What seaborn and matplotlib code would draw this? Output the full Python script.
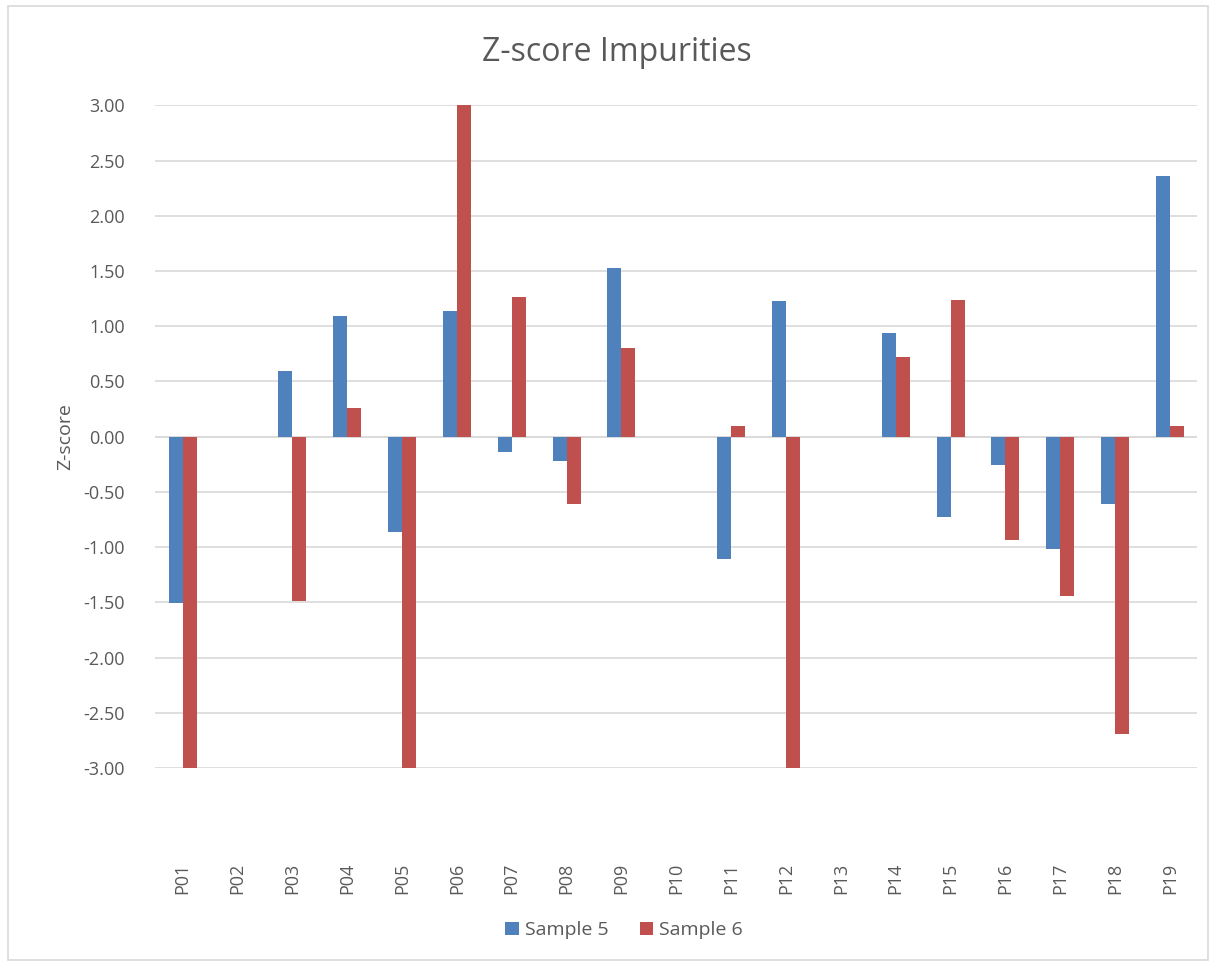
import pandas as pd
import matplotlib.pyplot as plt
import seaborn as sns
from matplotlib.patches import Rectangle

# data
categories = ["P01", "P02", "P03", "P04", "P05", "P06", "P07", "P08", "P09", "P10",
              "P11", "P12", "P13", "P14", "P15", "P16", "P17", "P18", "P19"]
sample5 = [-1.51, 0.0, 0.59, 1.09, -0.86, 1.14, -0.14, -0.22, 1.53, 0.0,
           -1.11, 1.23, 0.0, 0.94, -0.73, -0.26, -1.02, -0.61, 2.36]
sample6 = [-3.0, 0.0, -1.49, 0.26, -3.0, 3.0, 1.26, -0.61, 0.80, 0.0,
           0.095, -3.0, 0.0, 0.72, 1.24, -0.94, -1.44, -2.69, 0.10]

df = pd.DataFrame({
    "Parameter": categories * 2,
    "Z-score": sample5 + sample6,
    "Series": ["Sample 5"] * len(categories) + ["Sample 6"] * len(categories),
})

sns.set_style("white")
plt.rcParams['font.family'] = ['Open Sans', 'DejaVu Sans']
text_col = "#595959"

fig = plt.figure(figsize=(12.12, 9.66), dpi=100)
fig.patches.append(Rectangle((8 / 1212, 6 / 966), 1200 / 1212, 954 / 966,
                             transform=fig.transFigure, fill=False,
                             edgecolor="#D9D9D9", linewidth=1.2))
ax = fig.add_axes([0.128, 0.205, 0.86, 0.686])

sns.barplot(data=df, x="Parameter", y="Z-score", hue="Series",
            palette=["#4F81BD", "#C0504D"], width=0.51, ax=ax,
            saturation=1, linewidth=0, zorder=3)

ax.set_ylim(-3, 3)
ax.set_yticks([-3 + 0.5 * i for i in range(13)])
ax.set_yticklabels([f"{-3 + 0.5 * i:.2f}" for i in range(13)], fontsize=13, color=text_col)
ax.set_xlim(-0.5, len(categories) - 0.5)
ax.tick_params(axis="x", length=0, pad=68, labelsize=13, labelcolor=text_col, rotation=90)
ax.tick_params(axis="y", length=0, pad=22)
for lbl in ax.get_xticklabels():
    lbl.set_verticalalignment("top")
ax.grid(axis="y", color="#D9D9D9", linewidth=1.2, zorder=0)
ax.axhline(0, color="#D9D9D9", linewidth=1.2, zorder=1)
for s in ax.spines.values():
    s.set_visible(False)

ax.set_xlabel("")
ax.set_ylabel("Z-score", fontsize=14, color=text_col, labelpad=6)
fig.text(0.509, 0.946, "Z-score Impurities", ha="center", va="center",
         fontsize=23, color=text_col)

handles, labels = ax.get_legend_handles_labels()
ax.legend_.remove()
fig.legend(handles, labels, loc="center", bbox_to_anchor=(0.515, 0.037), ncol=2,
           frameon=False, fontsize=14, handlelength=0.7, handleheight=0.7,
           handletextpad=0.3, columnspacing=1.6, labelcolor=text_col)

plt.savefig("out.png", dpi=100)
